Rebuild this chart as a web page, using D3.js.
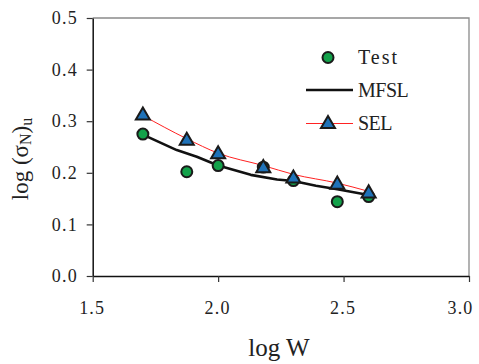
<!DOCTYPE html>
<html><head><meta charset="utf-8">
<script src="https://cdn.jsdelivr.net/npm/d3@7"></script>
<style>
body{margin:0;background:#fff;}
svg text{font-family:"Liberation Serif","Times New Roman",serif !important;fill:#222;}
</style></head>
<body><svg id="c" width="479" height="364"></svg>
<script>
// Data
const testX = [1.70, 1.875, 2.0, 2.18, 2.30, 2.475, 2.60];
const testY = [0.275, 0.202, 0.214, 0.211, 0.185, 0.144, 0.154];
const mfslX = [1.70, 1.835, 1.915, 2.0, 2.13, 2.235, 2.30, 2.39, 2.475, 2.60];
const mfslY = [0.274, 0.244, 0.231, 0.214, 0.196, 0.187, 0.184, 0.175, 0.168, 0.157];
const selX = [1.70, 1.875, 2.0, 2.18, 2.30, 2.475, 2.60];
const selY = [0.311, 0.262, 0.236, 0.209, 0.189, 0.177, 0.160];
const selLineY = [0.311, 0.266, 0.238, 0.214, 0.197, 0.180, 0.164];
const xTicks = [1.5, 2.0, 2.5, 3.0];
const yTicks = [0.0, 0.1, 0.2, 0.3, 0.4, 0.5];
const legendLabels = ["Test", "MFSL", "SEL"];

const svg = d3.select("#c");
const m = {l: 92.7, r: 10, t: 18, b: 88};
const W = 479, H = 364;
const x = d3.scaleLinear().domain([1.5, 3.0]).range([m.l, W - m.r]);
const y = d3.scaleLinear().domain([0, 0.5]).range([H - m.b, m.t]);
const serif = '"Liberation Serif", "Times New Roman", serif';

// frame (top/right gray)
svg.append("path").attr("d", `M${x(1.5)},${y(0.5)}H${x(3.0)}V${y(0)}`)
  .attr("fill","none").attr("stroke","#8a8a8a").attr("stroke-width",1.3);

const ya = svg.append("g").attr("transform",`translate(${x(1.5)},0)`)
  .call(d3.axisLeft(y).tickValues(yTicks).tickFormat(d3.format(".1f")).tickSize(6).tickPadding(10).tickSizeOuter(0));
const xa = svg.append("g").attr("transform",`translate(0,${y(0)})`)
  .call(d3.axisBottom(x).tickValues(xTicks).tickFormat(d3.format(".1f")).tickSize(6).tickPadding(19).tickSizeOuter(0));
[ya, xa].forEach(a => {
  a.attr("font-family", serif);
  a.select(".domain").attr("stroke","#111").attr("stroke-width",1.5);
  a.selectAll(".tick line").attr("stroke","#333").attr("stroke-width",1.2);
  a.selectAll("text").style("font-family", serif).attr("font-size",18).attr("fill","#222").attr("letter-spacing","1.2px");
});
ya.selectAll("text").attr("dx", 1.2);
xa.selectAll("text").attr("dx", d => d === 3.0 ? -9 : -1);

// lines
const lineGen = d3.line().x(d => x(d[0])).y(d => y(d[1]));
svg.append("path").datum(mfslX.map((v,i)=>[v,mfslY[i]]))
  .attr("d", lineGen).attr("fill","none").attr("stroke","#111").attr("stroke-width",2.6).attr("stroke-linejoin","round");
svg.append("path").datum(selX.map((v,i)=>[v,selLineY[i]]))
  .attr("d", lineGen.curve(d3.curveMonotoneX)).attr("fill","none").attr("stroke","#f22").attr("stroke-width",1);

const green = "#13a14a", blue = "#1f72b8", stroke = "#1a1a1a";
const circ = d3.symbol().type(d3.symbolCircle).size(95);
const tri = d3.symbol().type(d3.symbolTriangle).size(85);

svg.append("g").selectAll("path").data(testX.map((v,i)=>[v,testY[i]])).join("path")
  .attr("d", circ).attr("transform", d=>`translate(${x(d[0])},${y(d[1])})`)
  .attr("fill", green).attr("stroke", stroke).attr("stroke-width",2);
svg.append("g").selectAll("path").data(selX.map((v,i)=>[v,selY[i]])).join("path")
  .attr("d", tri).attr("transform", d=>`translate(${x(d[0])},${y(d[1])})`)
  .attr("fill", blue).attr("stroke", stroke).attr("stroke-width",2);

// legend
const lg = svg.append("g");
const lx1 = 306, lx2 = 353, lmx = 328, ltx = 358;
lg.append("path").attr("d", circ).attr("transform",`translate(${lmx},57.5)`)
  .attr("fill", green).attr("stroke", stroke).attr("stroke-width",2);
lg.append("line").attr("x1",lx1).attr("x2",lx2).attr("y1",90).attr("y2",90).attr("stroke","#111").attr("stroke-width",2.6);
lg.append("line").attr("x1",lx1).attr("x2",lx2).attr("y1",123.5).attr("y2",123.5).attr("stroke","#f22").attr("stroke-width",1);
lg.append("path").attr("d", tri).attr("transform",`translate(${lmx},124)`)
  .attr("fill", blue).attr("stroke", stroke).attr("stroke-width",2);
const lys = [63.5, 97, 130];
legendLabels.forEach((t,i)=>{
  lg.append("text").attr("x",ltx).attr("y",lys[i]).attr("font-size",20).style("font-family", serif)
    .attr("letter-spacing", i===0 ? "2px" : "-0.5px").text(t);
});

// axis titles
svg.append("text").attr("x", 279).attr("y", 355.5).attr("text-anchor","middle")
  .attr("font-size",25).style("font-family", serif).text("log W");
const yt = svg.append("text").attr("transform","translate(28,159) rotate(-90)")
  .attr("text-anchor","middle").attr("font-size",23).style("font-family", serif);
yt.append("tspan").text("log (σ");
yt.append("tspan").attr("font-size",16).attr("dy",3).text("N");
yt.append("tspan").attr("dy",-3).text(")");
yt.append("tspan").attr("font-size",16).attr("dy",4).text("u");
</script></body></html>
